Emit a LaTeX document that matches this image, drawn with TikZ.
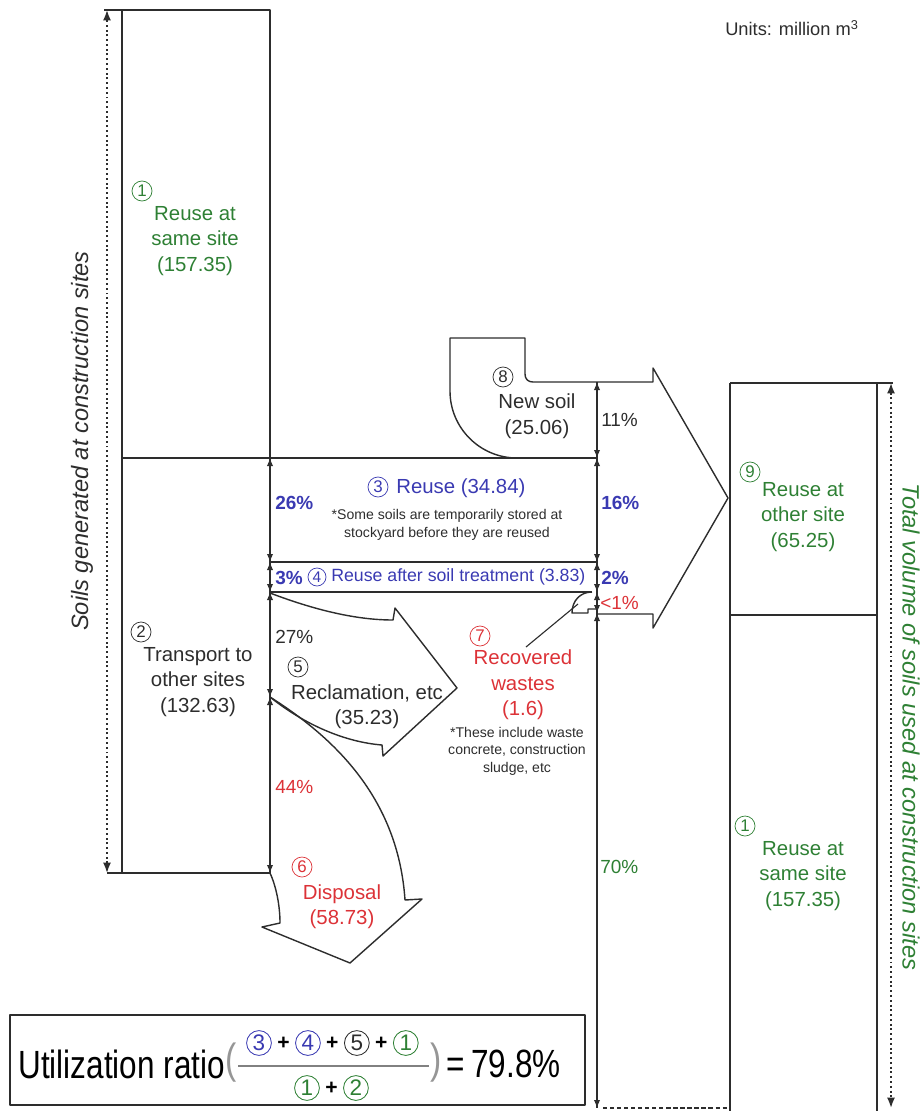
\documentclass[tikz,border=0pt]{standalone}
\usepackage{fontspec}
\setmainfont{Liberation Sans}
\newfontfamily\narrowfont[FakeStretch=0.8]{Liberation Sans}
\usetikzlibrary{arrows.meta,positioning,calc}

\definecolor{soilgreen}{RGB}{46,128,52}
\definecolor{soilblue}{RGB}{58,58,178}
\definecolor{soilred}{RGB}{220,50,55}
\definecolor{inkgray}{RGB}{45,45,45}

\begin{document}
\begin{tikzpicture}[x=0.025cm, y=-0.025cm,
  flow/.style={draw=inkgray, line width=1pt, line join=round},
  dim/.style={draw=inkgray, line width=0.9pt, {Latex[length=2mm,width=1.6mm]}-{Latex[length=2mm,width=1.6mm]}},
  total/.style={draw=inkgray, line width=1.2pt, dash pattern=on 1.4pt off 2pt, {Latex[length=2.6mm,width=2mm]}-{Latex[length=2.6mm,width=2mm]}},
  lbl/.style={font=\fontsize{14.5}{18}\selectfont, align=center, inner sep=0pt, text=inkgray},
  note/.style={font=\fontsize{10}{12.4}\selectfont, align=center, inner sep=0pt, text=inkgray},
  pct/.style={font=\fontsize{13.5}{16}\selectfont, anchor=west, inner sep=0pt, text=inkgray},
  side/.style={font=\fontsize{16.8}{20}\selectfont\itshape, inner sep=0pt},
  big/.style={font=\narrowfont\fontsize{28}{30}\selectfont, inner sep=0pt, text=black},
  circ/.style={circle, draw=#1, text=#1, line width=0.5pt, minimum size=5mm, inner sep=0pt, font=\fontsize{12}{12}\selectfont},
  circ/.default=inkgray,
  bigcirc/.style={circle, draw=#1, text=#1, line width=0.6pt, minimum size=6.2mm, inner sep=0pt, font=\fontsize{16}{16}\selectfont},
  plus/.style={font=\bfseries\fontsize{15}{15}\selectfont, inner sep=0pt, text=black}
]
\useasboundingbox (0,0) rectangle (923,1111);

% ================= LEFT COLUMN: SOILS GENERATED =================
\draw[flow] (104,10) -- (270,10) -- (270,873) -- (107,873);
\draw[flow] (122,10) -- (122,873);
\draw[flow] (122,458) -- (597,458);
\draw[flow] (270,562) -- (597,562);
\draw[flow] (270,592) -- (592,592);
\draw[flow] (597,382) -- (597,1108);

\coordinate (gentop) at (107,10);
\coordinate (genbot) at (107,873);
\draw[total] (genbot) -- (gentop);
\node[side, rotate=90, text=inkgray] (gentxt) at (82,441) {Soils generated at construction sites};

\node[circ=soilgreen] (samecirc) at (142,191) {1};
\node[lbl, text=soilgreen] (sametxt) at (195,241) {Reuse at\\same site\\(157.35)};

\node[circ] (transcirc) at (141,632) {2};
\node[lbl] (transtxt) at (198,682) {Transport to\\other sites\\(132.63)};

% ================= NEW SOIL AND BIG ARROW =================
\draw[flow] (517,458) .. controls (480,458) and (450,428) .. (450,391)
  -- (450,338) -- (525,338) -- (525,374) .. controls (525,379) and (528,382) .. (533,382)
  -- (653,382) -- (653,368) -- (728,498) -- (653,628) -- (653,614) -- (597,614);
% recovered wastes inlet
\draw[flow] (592,592) .. controls (580,592) and (572,601) .. (572,613)
  -- (588,613) -- (588,609) -- (597,609);

\node[circ] (newcirc) at (503,377) {8};
\node[lbl] (newtxt) at (537,401) {New soil};
\node[lbl] (newval) at (537,429) {(25.06)};

% ================= REUSE BANDS =================
\node[circ=soilblue] (reusecirc) at (378,487) {3};
\node[lbl, text=soilblue, anchor=west] (reusetxt) at (396,488) {Reuse (34.84)};
\node[note] (reusenote) at (447,525) {*Some soils are temporarily stored at\\stockyard before they are reused};
\node[circ=soilblue, minimum size=4.5mm, font=\fontsize{11}{11}\selectfont] (treatcirc) at (317,577) {4};
\node[lbl, text=soilblue, anchor=west, font=\fontsize{12.6}{15}\selectfont] (treattxt) at (331,577) {Reuse after soil treatment (3.83)};

% ================= RECLAMATION AND DISPOSAL =================
\draw[flow] (270,593) .. controls (320,612) and (360,620) .. (393,620) -- (395,608)
  -- (457,688) -- (383,756) -- (382,745) .. controls (345,742) and (305,725) .. (270,697);
\draw[flow] (270,697) .. controls (330,735) and (398,795) .. (405,900) -- (422,899)
  -- (350,963) -- (262,927) -- (280,923) .. controls (280,905) and (276,886) .. (270,873);

\node[circ] (reclcirc) at (298,667) {5};
\node[lbl] (recltxt) at (367,707) {Reclamation, etc\\(35.23)};

\node[circ=soilred] (dispcirc) at (302,867) {6};
\node[lbl, text=soilred] (disptxt) at (342,907) {Disposal\\(58.73)};

% ================= RECOVERED WASTES =================
\node[circ=soilred] (wastecirc) at (480,636) {7};
\node[lbl, text=soilred] (wastetxt) at (523,685) {Recovered\\wastes\\(1.6)};
\node[note] (wastenote) at (517,751) {*These include waste\\concrete, construction\\sludge, etc};
\coordinate (wastefrom) at (526,647);
\coordinate (wasteto) at (578,604);
\draw[flow, line width=0.8pt] (wastefrom) -- (wasteto);

% ================= PERCENT DIMENSIONS =================
\foreach \nm/\yy in {l0/458,l1/562,l2/592,l3/697,l4/873}
  \coordinate (\nm) at (270,\yy);
\foreach \nm/\yy in {r0/382,r1/458,r2/562,r3/592,r4/613,r5/1108}
  \coordinate (\nm) at (597,\yy);
\foreach \a/\b in {l0/l1,l1/l2,l2/l3,l3/l4,r0/r1,r1/r2,r2/r3,r3/r4,r4/r5}
  \draw[dim] (\a) -- (\b);

\node[pct, text=soilblue, font=\fontsize{13.5}{16}\selectfont\bfseries] (p26) at (275,503) {26\%};
\node[pct, text=soilblue, font=\fontsize{13.5}{16}\selectfont\bfseries] (p3) at (275,578) {3\%};
\node[pct] (p27) at (275,637) {27\%};
\node[pct, text=soilred] (p44) at (275,787) {44\%};
\node[pct] (p11) at (601,420) {11\%};
\node[pct, text=soilblue, font=\fontsize{13.5}{16}\selectfont\bfseries] (p16) at (601,503) {16\%};
\node[pct, text=soilblue, font=\fontsize{13.5}{16}\selectfont\bfseries] (p2) at (601,578) {2\%};
\node[pct, text=soilred] (plt1) at (600,603) {<1\%};
\node[pct, text=soilgreen] (p70) at (600,867) {70\%};

% ================= RIGHT COLUMN: SOILS USED =================
\draw[flow] (730,383) -- (893,383);
\draw[flow] (730,383) -- (730,1111);
\draw[flow] (877,383) -- (877,1111);
\draw[flow] (730,615) -- (877,615);
\draw[inkgray, line width=0.8pt, dash pattern=on 3pt off 2pt] (603,1108) -- (728,1108);

\coordinate (usetop) at (891,383);
\coordinate (usebot) at (891,1108);
\draw[total] (usetop) -- (usebot);
\node[side, rotate=-90, text=soilgreen] (usetxt) at (911,727) {Total volume of soils used at construction sites};

\node[circ=soilgreen] (othercirc) at (750,472) {9};
\node[lbl, text=soilgreen] (othertxt) at (803,517) {Reuse at\\other site\\(65.25)};

\node[circ=soilgreen] (same2circ) at (745,826) {1};
\node[lbl, text=soilgreen] (same2txt) at (803,876) {Reuse at\\same site\\(157.35)};

\node[font=\fontsize{13}{15}\selectfont, text=inkgray, inner sep=0pt] (units) at (792,28) {Units: million m\textsuperscript{3}};

% ================= UTILIZATION RATIO =================
\draw[flow] (10,1015) rectangle (585,1105);
\node[big, anchor=west] (util) at (18,1064) {Utilization ratio};
\node[big, text=inkgray!50, font=\narrowfont\fontsize{30}{32}\selectfont] (lpar) at (231,1063) {(};
\node[big, text=inkgray!50, font=\narrowfont\fontsize{30}{32}\selectfont] (rpar) at (436,1063) {)};
\draw[inkgray!60, line width=1.5pt] (238,1066) -- (429,1066);
% numerator
\node[bigcirc=soilblue] (f3) at (259,1043) {3};
\node[plus, right=1.3mm of f3] (fp1) {+};
\node[bigcirc=soilblue, right=1.3mm of fp1] (f4) {4};
\node[plus, right=1.3mm of f4] (fp2) {+};
\node[bigcirc=inkgray, right=1.3mm of fp2] (f5) {5};
\node[plus, right=1.3mm of f5] (fp3) {+};
\node[bigcirc=soilgreen, right=1.3mm of fp3] (f1) {1};
% denominator
\node[bigcirc=soilgreen] (d1) at (307,1088) {1};
\node[plus, right=1.3mm of d1] (dp) {+};
\node[bigcirc=soilgreen, right=1.3mm of dp] (d2) {2};
\node[big, anchor=west] (ratio) at (446,1064) {=\,79.8\%};

\end{tikzpicture}
\end{document}
